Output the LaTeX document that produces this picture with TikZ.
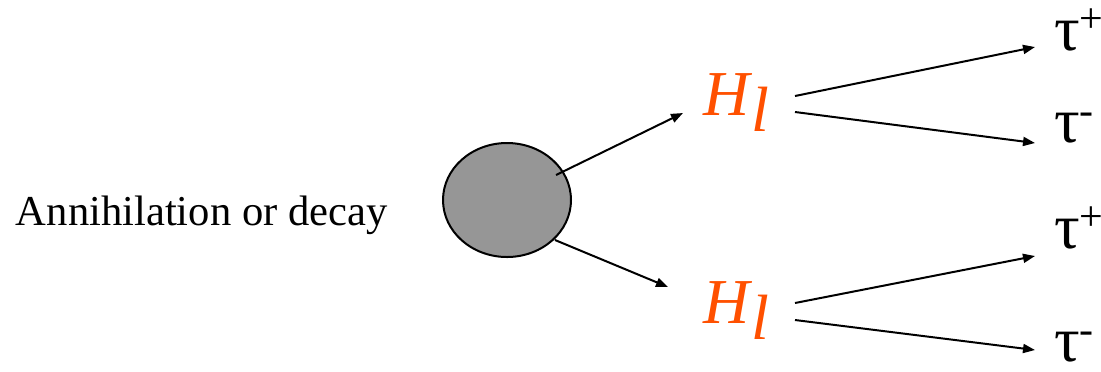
\documentclass[tikz,border=0pt]{standalone}
\usepackage{fontspec}
\setmainfont{Liberation Serif}
\usetikzlibrary{arrows.meta,shapes.geometric}
\definecolor{higgsorange}{RGB}{255,80,0}
\definecolor{blobgray}{RGB}{150,150,150}
\begin{document}
\begin{tikzpicture}[x=0.5pt, y=-0.5pt, line width=1pt,
        every node/.style={inner sep=0pt, anchor=base west},
        arr/.style={-{Triangle[length=6pt,width=4.5pt]}},
        blob/.style={ellipse, draw, fill=blobgray, minimum width=64pt, minimum height=57pt, anchor=center},
        higgs/.style={text=higgsorange, font=\fontsize{32}{32}\selectfont\itshape},
        lepton/.style={font=\fontsize{32}{32}\selectfont}]
    \useasboundingbox (0,0) rectangle (1101,371);
    \node[font=\fontsize{21.3}{21.3}\selectfont] (label) at (15,225) {Annihilation or decay};
    \node[blob] (blob) at (507,200) {};
    \coordinate (blob-a) at (556,175);
    \coordinate (blob-b) at (555,240);
    \node[higgs] (hup) at (702,115) {H\kern1pt\raisebox{-8pt}{l}};
    \node[higgs] (hdn) at (702,323) {H\kern1pt\raisebox{-8pt}{l}};
    \foreach \n/\y/\s in {tp1/50/+,tm1/142/-,tp2/248/+,tm2/361/-}
        \node[lepton] (\n) at (1053,\y) {τ\raisebox{9pt}{\fontsize{21}{21}\selectfont\s}};
    \draw[arr] (blob-a) -- ([shift={(-19,-2)}]hup.base west);
    \draw[arr] (blob-b) -- ([shift={(-34,-36)}]hdn.base west);
    \foreach \h/\a/\e/\u/\v in {hup/-19/tp1/-18/-3,hup/-3/tm1/-18/1,hdn/-20/tp2/-18/8,hdn/-3/tm2/-18/-11}
        \draw[arr] ([shift={(93,\a)}]\h.base west) -- ([shift={(\u,\v)}]\e.base west);
\end{tikzpicture}
\end{document}
